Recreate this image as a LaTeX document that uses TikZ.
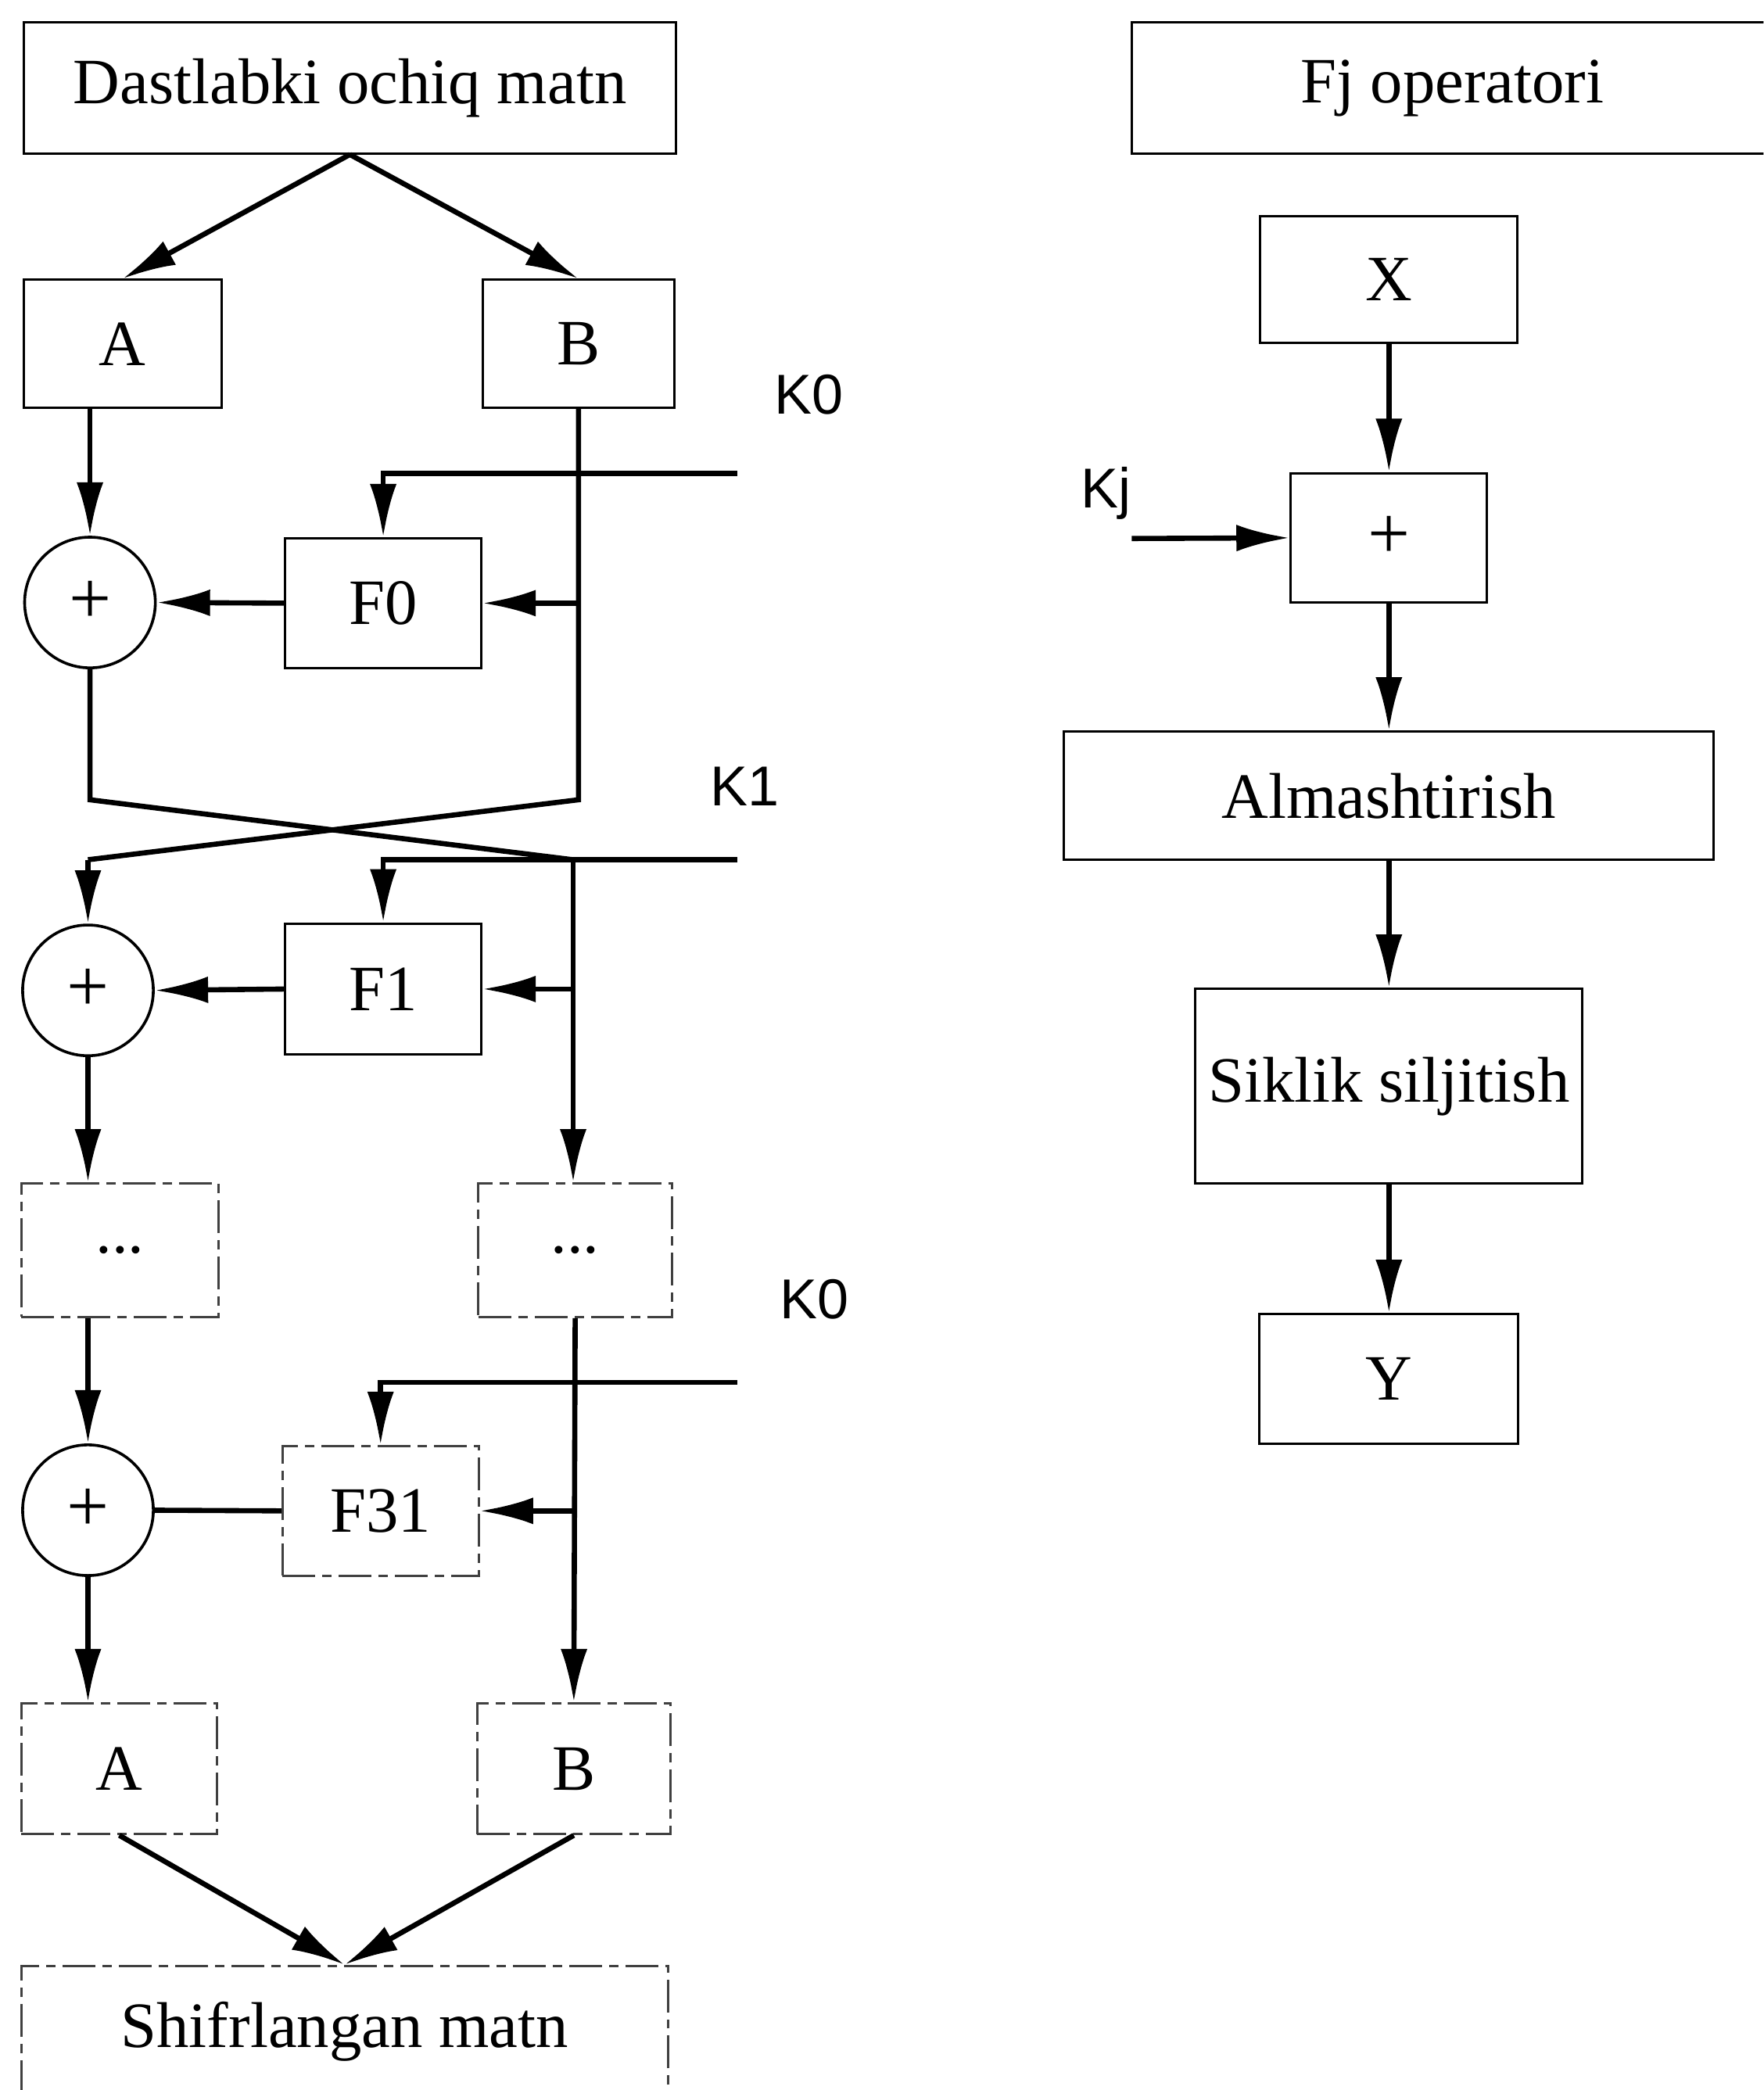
\documentclass[tikz,border=0pt]{standalone}
\usepackage{fontspec}
\setmainfont{Liberation Serif}
\setsansfont{Liberation Sans}
\usetikzlibrary{arrows.meta, positioning, calc}

\tikzset{
    blok/.style={draw, rectangle, line width=0.5pt, inner sep=0pt,
        font=\fontsize{13.8}{16}\selectfont},
    xira/.style={blok, draw=black!75, dash pattern=on 7pt off 1.5pt on 2pt off 1.5pt},
    qoshish/.style={draw, circle, line width=0.6pt, minimum size=0.98cm, inner sep=0pt,
        font=\fontsize{16}{18}\selectfont},
    kalit/.style={font=\sffamily\fontsize{12}{14}\selectfont},
    strelka/.style={-{Latex[length=0.4cm,width=0.2cm]}, line width=1.1pt},
    chiziq/.style={line width=1.1pt},
}

\begin{document}
\begin{tikzpicture}[x=0.01cm, y=-0.01cm]
        \useasboundingbox (0,0) rectangle (1323,1568);
        \clip (0,0) rectangle (1323,1568);

        % shifrlash sxemasi
        \node[blok, minimum width=4.89cm, minimum height=0.98cm] (ochiq) at (262.5,66) {Dastlabki ochiq matn};
        \node[blok, minimum width=1.48cm, minimum height=0.96cm] (A) at (92,258) {A};
        \node[blok, minimum width=1.44cm, minimum height=0.96cm] (B) at (434,258) {B};
        \node[qoshish] (q0) at (67.5,452) {+};
        \node[blok, minimum width=1.47cm, minimum height=0.97cm] (F0) at (287.5,452.5) {F0};
        \node[qoshish] (q1) at (66,743) {+};
        \node[blok, minimum width=1.47cm, minimum height=0.98cm] (F1) at (287.5,742) {F1};
        \node[xira, minimum width=1.48cm, minimum height=1cm] (nuqtaA) at (90,938) {...};
        \node[xira, minimum width=1.45cm, minimum height=1cm] (nuqtaB) at (431.5,938) {...};
        \node[qoshish] (q31) at (66,1133) {+};
        \node[xira, minimum width=1.47cm, minimum height=0.97cm] (F31) at (285.5,1133.5) {F31};
        \node[xira, minimum width=1.47cm, minimum height=0.98cm] (A2) at (89.5,1327) {A};
        \node[xira, minimum width=1.45cm, minimum height=0.98cm] (B2) at (430.5,1327) {B};
        \node[xira, minimum width=4.85cm, minimum height=0.98cm, anchor=north] (shifr) at (258.5,1474) {Shifrlangan matn};

        \node[kalit] (k0) at (607,296) {K0};
        \node[kalit] (k1) at (559,590) {K1};
        \node[kalit] (k31) at (611,975) {K0};
        \coordinate (k0e) at (553,355);
        \coordinate (k1e) at (553,645);
        \coordinate (k31e) at (553,1037);
        \coordinate (kesA) at (75,600);
        \coordinate (kesB) at (430,645);

        % Fj operatori
        \node[blok, minimum width=4.81cm, minimum height=0.98cm] (Fj) at (1089.5,66) {Fj operatori};
        \node[blok, minimum width=1.93cm, minimum height=0.95cm] (X) at (1042,209.5) {X};
        \node[blok, minimum width=1.47cm, minimum height=0.97cm, font=\fontsize{16}{18}\selectfont] (qj) at (1042,403.5) {+};
        \node[blok, minimum width=4.87cm, minimum height=0.96cm] (alm) at (1042,597) {Almashtirish};
        \node[blok, minimum width=2.90cm, minimum height=1.46cm] (sik) at (1042,815) {Siklik siljitish};
        \node[blok, minimum width=1.94cm, minimum height=0.97cm] (Y) at (1042,1034.5) {Y};
        \node[kalit] (kj) at (830,370) {Kj};
        \coordinate (kje) at (849,404);

        \path[strelka]
            (ochiq.south) edge (A.north)
            (ochiq.south) edge (B.north)
            (q0 |- A.south) edge (q0.north)
            (B.south |- F0.east) edge (F0.east)
            (F0.west) edge (q0.east)
            (kesB |- F1.east) edge (F1.east)
            (F1.west) edge (q1.east)
            (q1.south) edge (q1 |- nuqtaA.north)
            (q31 |- nuqtaA.south) edge (q31.north)
            (nuqtaB.south |- F31.east) edge (F31.east)
            (nuqtaB.south) edge (B2.north)
            (q31.south) edge (q31 |- A2.north)
            (A2.south) edge (shifr.north)
            (B2.south) edge (shifr.north)
            (X.south) edge (qj.north)
            (kje) edge (qj.west)
            (qj.south) edge (alm.north)
            (alm.south) edge (sik.north)
            (sik.south) edge (Y.north)
            ;
        \draw[strelka] (k0e) -| (F0.north);
        \draw[strelka] (k1e) -| (F1.north);
        \draw[strelka] (k31e) -| (F31.north);
        \draw[chiziq] (F31.west) -- (q31.east);

        % kesishgan tarmoqlar
        \draw[chiziq] (B.south) -- (B.south |- kesA) -- (q1 |- kesB);
        \draw[strelka] (q1 |- kesB) -- (q1.north);
        \draw[chiziq] (q0.south) -- (q0 |- kesA) -- (kesB);
        \draw[strelka] (kesB) -- (kesB |- nuqtaB.north);
    \end{tikzpicture}
\end{document}
